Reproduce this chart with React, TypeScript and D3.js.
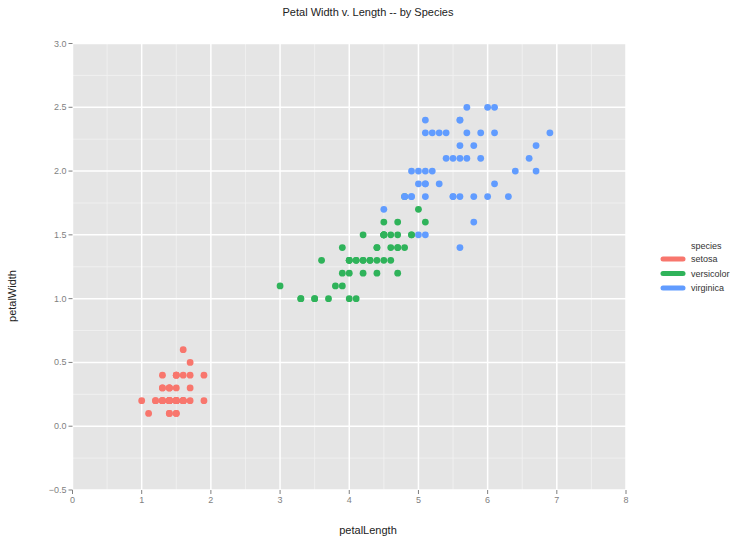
import * as d3 from "d3";

// iris petal measurements, [petalLength, petalWidth]
const setosa: [number, number][] = [
  [1.4, 0.2], [1.4, 0.2], [1.3, 0.2], [1.5, 0.2], [1.4, 0.2], [1.7, 0.4], [1.4, 0.3], [1.5, 0.2],
  [1.4, 0.2], [1.5, 0.1], [1.5, 0.2], [1.6, 0.2], [1.4, 0.1], [1.1, 0.1], [1.2, 0.2], [1.5, 0.4],
  [1.3, 0.4], [1.4, 0.3], [1.7, 0.3], [1.5, 0.3], [1.7, 0.2], [1.5, 0.4], [1.0, 0.2], [1.7, 0.5],
  [1.9, 0.2], [1.6, 0.2], [1.6, 0.4], [1.5, 0.2], [1.4, 0.2], [1.6, 0.2], [1.6, 0.2], [1.5, 0.4],
  [1.5, 0.1], [1.4, 0.2], [1.5, 0.2], [1.2, 0.2], [1.3, 0.2], [1.4, 0.1], [1.3, 0.2], [1.5, 0.2],
  [1.3, 0.3], [1.3, 0.3], [1.3, 0.2], [1.6, 0.6], [1.9, 0.4], [1.4, 0.3], [1.6, 0.2], [1.4, 0.2],
  [1.5, 0.2], [1.4, 0.2],
];

const versicolor: [number, number][] = [
  [4.7, 1.4], [4.5, 1.5], [4.9, 1.5], [4.0, 1.3], [4.6, 1.5], [4.5, 1.3], [4.7, 1.6], [3.3, 1.0],
  [4.6, 1.3], [3.9, 1.4], [3.5, 1.0], [4.2, 1.5], [4.0, 1.0], [4.7, 1.4], [3.6, 1.3], [4.4, 1.4],
  [4.5, 1.5], [4.1, 1.0], [4.5, 1.5], [3.9, 1.1], [4.8, 1.8], [4.0, 1.3], [4.9, 1.5], [4.7, 1.2],
  [4.3, 1.3], [4.4, 1.4], [4.8, 1.4], [5.0, 1.7], [4.5, 1.5], [3.5, 1.0], [3.8, 1.1], [3.7, 1.0],
  [3.9, 1.2], [5.1, 1.6], [4.5, 1.5], [4.5, 1.6], [4.7, 1.5], [4.4, 1.3], [4.1, 1.3], [4.0, 1.3],
  [4.4, 1.2], [4.6, 1.4], [4.0, 1.2], [3.3, 1.0], [4.2, 1.3], [4.2, 1.2], [4.2, 1.3], [4.3, 1.3],
  [3.0, 1.1], [4.1, 1.3],
];

const virginica: [number, number][] = [
  [6.0, 2.5], [5.1, 1.9], [5.9, 2.1], [5.6, 1.8], [5.8, 2.2], [6.6, 2.1], [4.5, 1.7], [6.3, 1.8],
  [5.8, 1.8], [6.1, 2.5], [5.1, 2.0], [5.3, 1.9], [5.5, 2.1], [5.0, 2.0], [5.1, 2.4], [5.3, 2.3],
  [5.5, 1.8], [6.7, 2.2], [6.9, 2.3], [5.0, 1.5], [5.7, 2.3], [4.9, 2.0], [6.7, 2.0], [4.9, 1.8],
  [5.7, 2.1], [6.0, 1.8], [4.8, 1.8], [4.9, 1.8], [5.6, 2.1], [5.8, 1.6], [6.1, 1.9], [6.4, 2.0],
  [5.6, 2.2], [5.1, 1.5], [5.6, 1.4], [6.1, 2.3], [5.6, 2.4], [5.5, 1.8], [4.8, 1.8], [5.4, 2.1],
  [5.6, 2.4], [5.1, 2.3], [5.1, 1.9], [5.9, 2.3], [5.7, 2.5], [5.2, 2.3], [5.0, 1.9], [5.2, 2.0],
  [5.4, 2.3], [5.1, 1.8],
];

const species = ["setosa", "versicolor", "virginica"];
const speciesData = [setosa, versicolor, virginica];
const colors = ["#F8766D", "#2FB35A", "#619CFF"];

const xTicks = [0, 1, 2, 3, 4, 5, 6, 7, 8];
const yTicks = [-0.5, 0.0, 0.5, 1.0, 1.5, 2.0, 2.5, 3.0];

const width = 745;
const height = 542;
const panel = { left: 72.5, right: 626, top: 43.5, bottom: 490 };
const font = "'Liberation Sans', Arial, Helvetica, sans-serif";

export default function App() {
  const x = d3.scaleLinear().domain([0, 8]).range([panel.left, panel.right]);
  const y = d3.scaleLinear().domain([-0.5, 3.0]).range([panel.bottom, panel.top]);

  const xMinor = d3.range(0.5, 8, 1);
  const yMinor = d3.range(-0.25, 3.0, 0.5);

  return (
    <svg
      width={width}
      height={height}
      style={{ position: "absolute", left: 0, top: 0, fontFamily: font }}
    >
      <rect width={width} height={height} fill="#fff" />
      <rect
        x={panel.left}
        y={panel.top}
        width={panel.right - panel.left}
        height={panel.bottom - panel.top}
        fill="#e5e5e5"
      />

      {/* minor grid */}
      {xMinor.map((v) => (
        <line key={"xm" + v} x1={x(v)} x2={x(v)} y1={panel.top} y2={panel.bottom} stroke="#f2f2f2" strokeWidth={0.8} />
      ))}
      {yMinor.map((v) => (
        <line key={"ym" + v} x1={panel.left} x2={panel.right} y1={y(v)} y2={y(v)} stroke="#f2f2f2" strokeWidth={0.8} />
      ))}

      {/* major grid */}
      {xTicks.map((v) => (
        <line key={"xg" + v} x1={x(v)} x2={x(v)} y1={panel.top} y2={panel.bottom} stroke="#fff" strokeWidth={1.5} />
      ))}
      {yTicks.map((v) => (
        <line key={"yg" + v} x1={panel.left} x2={panel.right} y1={y(v)} y2={y(v)} stroke="#fff" strokeWidth={1.5} />
      ))}

      {/* points */}
      {speciesData.map((pts, si) =>
        pts.map((d, i) => (
          <circle key={si + "-" + i} cx={x(d[0])} cy={y(d[1])} r={3.4} fill={colors[si]} />
        ))
      )}

      {/* x axis */}
      {xTicks.map((v) => (
        <g key={"xt" + v}>
          <line x1={x(v)} x2={x(v)} y1={panel.bottom} y2={panel.bottom + 4} stroke="#7f7f7f" strokeWidth={1} />
          <text x={x(v)} y={panel.bottom + 13} textAnchor="middle" fontSize={9} fill="#7f7f7f">
            {v}
          </text>
        </g>
      ))}

      {/* y axis */}
      {yTicks.map((v) => (
        <g key={"yt" + v}>
          <line x1={panel.left - 4} x2={panel.left} y1={y(v)} y2={y(v)} stroke="#7f7f7f" strokeWidth={1} />
          <text x={panel.left - 6} y={y(v) + 3} textAnchor="end" fontSize={9} fill="#7f7f7f">
            {d3.format(".1f")(v).replace("-", "\u2212")}
          </text>
        </g>
      ))}

      {/* titles */}
      <text x={368} y={16} textAnchor="middle" fontSize={11} fill="#222">
        Petal Width v. Length -- by Species
      </text>
      <text x={368} y={534} textAnchor="middle" fontSize={11} fill="#222">
        petalLength
      </text>
      <text transform="translate(16,296) rotate(-90)" textAnchor="middle" fontSize={11} fill="#222">
        petalWidth
      </text>

      {/* legend */}
      <text x={691} y={249} fontSize={9} fill="#333">
        species
      </text>
      {species.map((s, i) => (
        <g key={s} transform={`translate(0, ${259 + i * 14.5})`}>
          <line x1={663} x2={683} y1={0} y2={0} stroke={colors[i]} strokeWidth={5} strokeLinecap="round" />
          <text x={691} y={3} fontSize={9} fill="#333">
            {s}
          </text>
        </g>
      ))}
    </svg>
  );
}
